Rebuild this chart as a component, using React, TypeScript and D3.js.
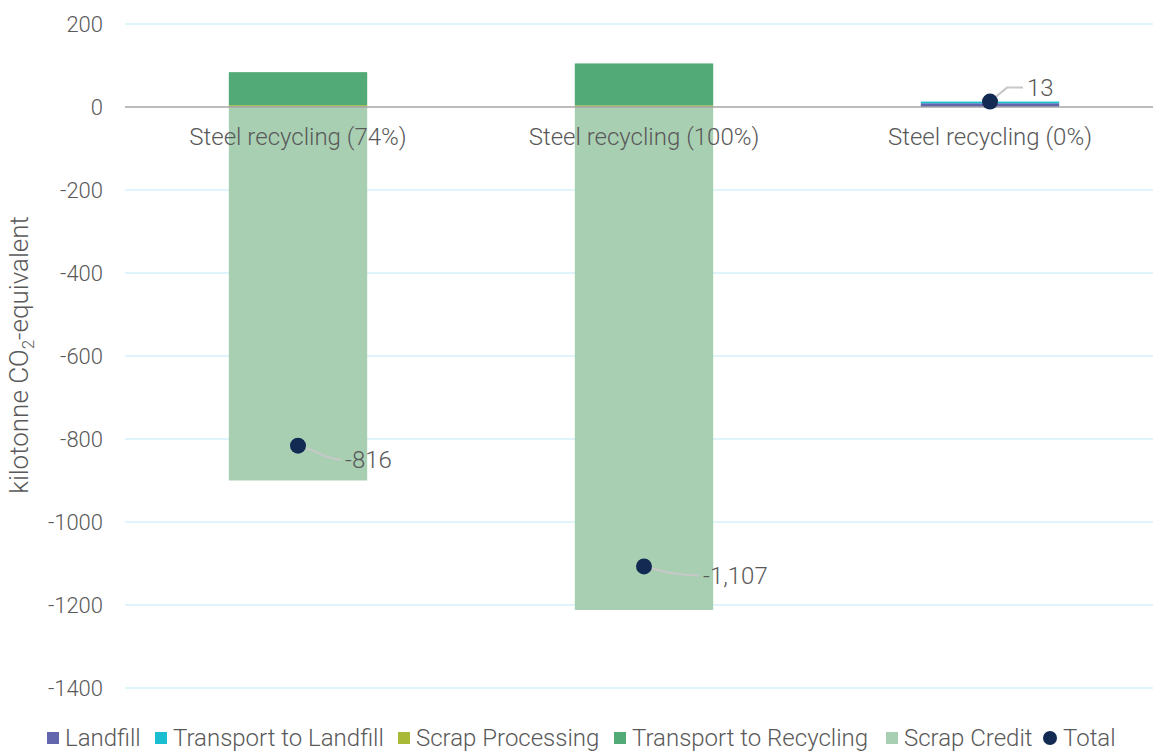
import React, { useEffect, useRef } from 'react';
import * as d3 from 'd3';

const categories = ['Steel recycling (74%)', 'Steel recycling (100%)', 'Steel recycling (0%)'];
const seriesNames = ['Landfill', 'Transport to Landfill', 'Scrap Processing', 'Transport to Recycling', 'Scrap Credit'];
const seriesColors = ['#6366ad', '#1bbdd0', '#a8b938', '#52ab77', '#a9cfb3'];
const landfill = [1, 0, 9];
const transportLandfill = [0.5, 0, 4];
const scrapProcessing = [3, 4, 0];
const transportRecycling = [79.5, 101, 0];
const scrapCredit = [-900, -1212, 0];
const totals = [-816, -1107, 13];
const totalLabels = ['-816', '-1,107', '13'];
const yTicks = [200, 0, -200, -400, -600, -800, -1000, -1200, -1400];

const W = 1153;
const H = 751;
const FONT = 'Roboto, "Open Sans", sans-serif';
const TXT = '#595959';

export default function App() {
  const svgRef = useRef<SVGSVGElement>(null);

  useEffect(() => {
    if (!svgRef.current) return;
    const svg = d3.select(svgRef.current);
    svg.selectAll('*').remove();

    const x = d3.scaleBand<string>().domain(categories).range([125, 1163]).paddingInner(0.6).paddingOuter(0.3);
    const y = d3.scaleLinear().domain([-1400, 200]).range([688, 24]);

    // gridlines
    svg.append('g')
      .selectAll('line')
      .data(yTicks.filter(d => d !== 0))
      .join('line')
      .attr('x1', 125).attr('x2', W)
      .attr('y1', d => y(d)).attr('y2', d => y(d))
      .attr('stroke', '#d5f1fb').attr('stroke-width', 1.5);

    // tick labels
    svg.append('g')
      .selectAll('text')
      .data(yTicks)
      .join('text')
      .attr('x', 103).attr('y', d => y(d))
      .attr('dy', '0.35em')
      .attr('text-anchor', 'end')
      .attr('font-family', FONT).attr('font-weight', 300).attr('font-size', 22)
      .attr('fill', TXT)
      .text(d => String(d));

    // stacked bars
    const rows = categories.map((c, i) => ({
      cat: c,
      'Landfill': landfill[i],
      'Transport to Landfill': transportLandfill[i],
      'Scrap Processing': scrapProcessing[i],
      'Transport to Recycling': transportRecycling[i],
      'Scrap Credit': scrapCredit[i],
    }));
    const stack = d3.stack<any>().keys(seriesNames).offset(d3.stackOffsetDiverging);
    const stacked = stack(rows);

    svg.append('g')
      .selectAll('g')
      .data(stacked)
      .join('g')
      .attr('fill', (_, i) => seriesColors[i])
      .selectAll('rect')
      .data(d => d)
      .join('rect')
      .attr('x', d => x(d.data.cat)!)
      .attr('width', x.bandwidth())
      .attr('y', d => y(Math.max(d[0], d[1])))
      .attr('height', d => Math.abs(y(d[0]) - y(d[1])));

    // zero line
    svg.append('line')
      .attr('x1', 125).attr('x2', W)
      .attr('y1', y(0)).attr('y2', y(0))
      .attr('stroke', '#a6a6a6').attr('stroke-width', 1.5);

    // category labels
    svg.append('g')
      .selectAll('text')
      .data(categories)
      .join('text')
      .attr('x', d => x(d)! + x.bandwidth() / 2)
      .attr('y', y(0) + 30)
      .attr('dy', '0.35em')
      .attr('text-anchor', 'middle')
      .attr('font-family', FONT).attr('font-weight', 300).attr('font-size', 24)
      .attr('fill', TXT)
      .text(d => d);

    // total leader lines and labels
    const labelDx = [47, 59, 37];
    const labelDy = [14, 9, -14];
    const cx = (i: number) => x(categories[i])! + x.bandwidth() / 2;
    const g = svg.append('g');
    totals.forEach((t, i) => {
      const px = cx(i);
      const py = y(t);
      const lx = px + labelDx[i];
      const ly = py + labelDy[i];
      let path: string;
      if (t < 0) {
        path = `M${px},${py} C${px + 18},${py + 4} ${px + 28},${ly} ${lx - 4},${ly}`;
      } else {
        path = `M${px},${py} L${px + 17},${ly} L${lx - 4},${ly}`;
      }
      g.append('path').attr('d', path).attr('fill', 'none').attr('stroke', '#c8c8c8').attr('stroke-width', 2);
      g.append('text')
        .attr('x', lx).attr('y', ly)
        .attr('dy', '0.35em')
        .attr('font-family', FONT).attr('font-weight', 300).attr('font-size', 24)
        .attr('fill', TXT)
        .text(totalLabels[i]);
    });

    g.selectAll('circle')
      .data(totals)
      .join('circle')
      .attr('cx', (_, i) => cx(i))
      .attr('cy', d => y(d))
      .attr('r', 8)
      .attr('fill', '#132a52');

    // axis title
    svg.append('text')
      .attr('transform', `translate(28,${355}) rotate(-90)`)
      .attr('text-anchor', 'middle')
      .attr('font-family', FONT).attr('font-weight', 300).attr('font-size', 26)
      .attr('fill', TXT)
      .call(t => {
        t.append('tspan').text('kilotonne CO');
        t.append('tspan').attr('font-size', 17).attr('dy', 6).text('2');
        t.append('tspan').attr('dy', -6).text('-equivalent');
      });

    // legend
    const legendItems = [...seriesNames, 'Total'];
    const legendX = [47, 155, 398, 614, 886, 1043];
    const lg = svg.append('g').attr('transform', 'translate(0,738)');
    legendItems.forEach((name, i) => {
      if (name === 'Total') {
        lg.append('circle').attr('cx', legendX[i] + 7).attr('cy', 0).attr('r', 7).attr('fill', '#132a52');
      } else {
        lg.append('rect').attr('x', legendX[i]).attr('y', -6).attr('width', 12).attr('height', 12).attr('fill', seriesColors[i]);
      }
      lg.append('text')
        .attr('x', legendX[i] + (name === 'Total' ? 20 : 18))
        .attr('y', 0).attr('dy', '0.35em')
        .attr('font-family', FONT).attr('font-weight', 300).attr('font-size', 24)
        .attr('fill', TXT)
        .text(name);
    });
  }, []);

  return (
    <svg ref={svgRef} width={W} height={H} style={{ position: 'absolute', left: 0, top: 0, background: '#fff' }} />
  );
}
